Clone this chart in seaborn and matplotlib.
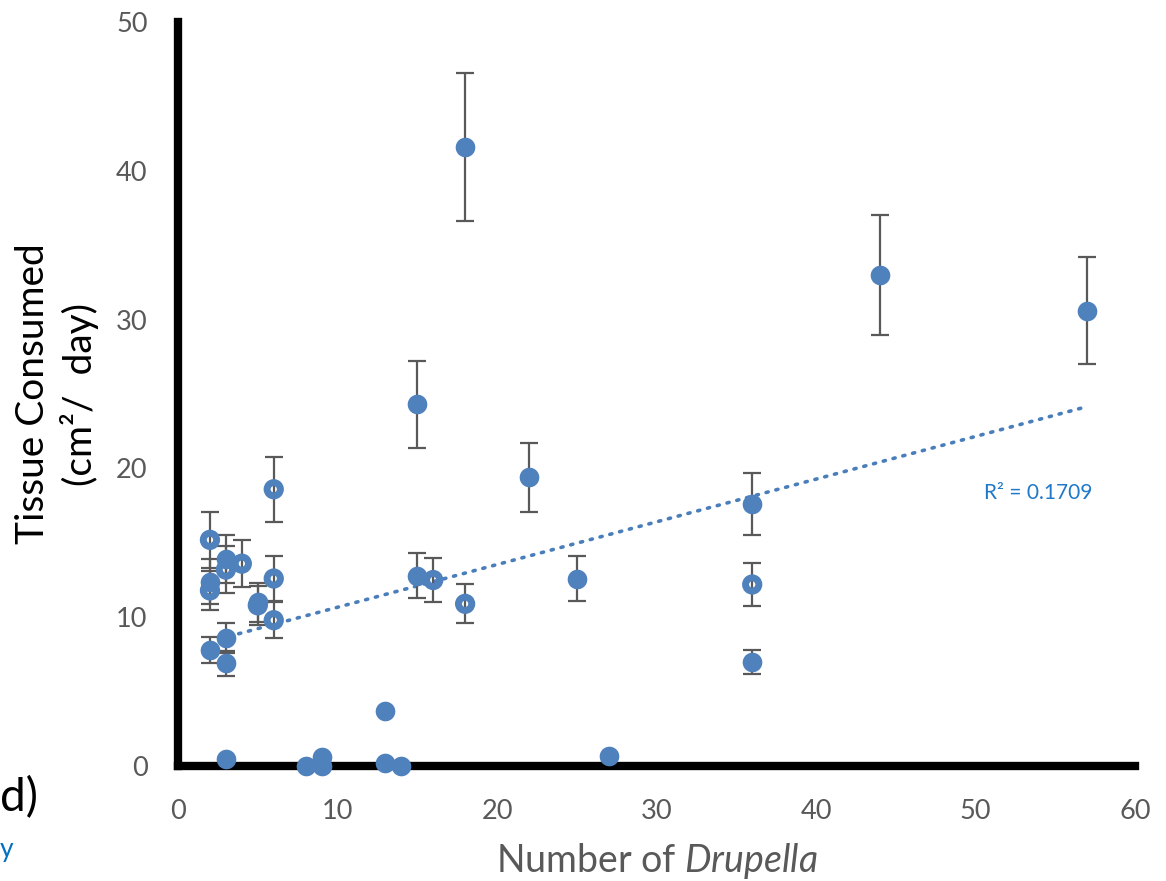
import matplotlib
matplotlib.use("Agg")
import matplotlib.pyplot as plt
import seaborn as sns
import numpy as np
import pandas as pd

# ---- data ----
# filled markers (with error bars)
filled_x = [18, 44, 57, 15, 22, 36, 15, 25, 36, 2, 2, 3, 3, 3, 5]
filled_y = [41.6, 33.0, 30.6, 24.3, 19.4, 17.6, 12.8, 12.6, 7.0, 12.4, 7.8, 8.6, 6.9, 13.9, 11.0]
filled_err = [5.0, 4.0, 3.6, 2.9, 2.3, 2.1, 1.5, 1.5, 0.8, 1.5, 0.9, 1.0, 0.85, 1.6, 1.3]
# filled markers near zero (no error bars)
zero_x = [3, 8, 9, 9, 13, 13, 14, 27]
zero_y = [0.5, 0.0, 0.6, 0.0, 3.7, 0.2, 0.0, 0.7]
# open (ring) markers
open_x = [2, 2, 3, 4, 5, 6, 6, 6, 16, 18, 36]
open_y = [15.2, 11.8, 13.2, 13.6, 10.8, 18.6, 12.6, 9.8, 12.5, 10.9, 12.2]
open_err = [1.9, 1.3, 1.6, 1.6, 1.3, 2.2, 1.5, 1.2, 1.5, 1.3, 1.45]
# linear trendline (as drawn)
trend_x = [3.8, 57]
trend_slope = 0.287
trend_intercept = 7.8
r2_text = "R² = 0.1709"

x_ticks = [0, 10, 20, 30, 40, 50, 60]
y_ticks = [0, 10, 20, 30, 40, 50]

# ---- style ----
sns.set_theme(style="white")
plt.rcParams['font.family'] = ['Lato', 'DejaVu Sans']
plt.rcParams['mathtext.fontset'] = 'custom'
plt.rcParams['mathtext.rm'] = 'Lato'
plt.rcParams['mathtext.it'] = 'Lato:italic'

BLUE = "#4F81BD"
GREY = "#595959"
TICK_GREY = "#595959"

fig = plt.figure(figsize=(11.66, 8.81), dpi=100)
ax = fig.add_axes([0.1527, 0.1305, 0.8207, 0.8445])

# error bars
ax.errorbar(filled_x, filled_y, yerr=filled_err, fmt='none', ecolor=GREY,
            elinewidth=1.6, capsize=6.5, capthick=1.6, zorder=2)
ax.errorbar(open_x, open_y, yerr=open_err, fmt='none', ecolor=GREY,
            elinewidth=1.6, capsize=6.5, capthick=1.6, zorder=2)

# trendline
tx = np.array(trend_x)
ax.plot(tx, trend_slope * tx + trend_intercept, linestyle=(0, (0.6, 2.2)),
        color="#4A7EBB", linewidth=2.6, dash_capstyle='round', zorder=1)

# markers
df_f = pd.DataFrame({"x": filled_x + zero_x, "y": filled_y + zero_y})
sns.scatterplot(data=df_f, x="x", y="y", ax=ax, color=BLUE, s=200,
                edgecolor=BLUE, linewidth=0, zorder=3, clip_on=False)
df_o = pd.DataFrame({"x": open_x, "y": open_y})
sns.scatterplot(data=df_o, x="x", y="y", ax=ax, s=92, facecolor="none",
                edgecolor=BLUE, linewidth=5, zorder=3, clip_on=False)

ax.text(57 + 0.3, trend_slope * 57 + trend_intercept - 5.8, r2_text, color="#1F78C8",
        fontsize=15, ha="right", va="center")

ax.set_xlim(0, 60)
ax.set_ylim(0, 50)
ax.set_xticks(x_ticks)
ax.set_yticks(y_ticks)
ax.tick_params(axis='both', length=0, labelsize=19.5, colors=TICK_GREY)
ax.tick_params(axis='x', pad=24)
ax.tick_params(axis='y', pad=22)

for side in ['top', 'right']:
    ax.spines[side].set_visible(False)
for side in ['left', 'bottom']:
    ax.spines[side].set_visible(True)
    ax.spines[side].set_color('black')
    ax.spines[side].set_linewidth(6)
ax.grid(False)

ax.set_ylabel("Tissue Consumed\n(cm²/  day)", fontsize=28, color="black", labelpad=12,
              linespacing=1.3)
ax.set_xlabel("Number of $\\it{Drupella}$", fontsize=27, color=TICK_GREY, labelpad=12)

fig.text(0.0, 1 - 798/881, "d)", fontsize=33, color="black", ha="left", va="center")
fig.text(0.0, 1 - 850/881, "y", fontsize=19, color="#0070C0", ha="left", va="center")

fig.savefig("out.png", dpi=100)
